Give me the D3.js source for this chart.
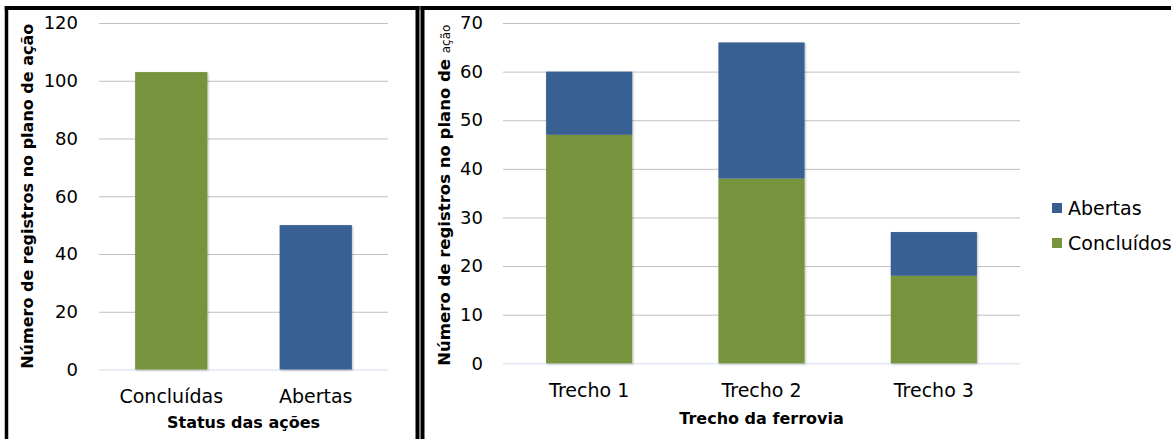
<!DOCTYPE html>
<html>
<head>
<meta charset="utf-8">
<script src="https://cdn.jsdelivr.net/npm/d3@7"></script>
<style>
  html, body { margin: 0; padding: 0; background: #fff; }
  svg { display: block; font-family: "DejaVu Sans", Verdana, sans-serif; }
</style>
</head>
<body>
<svg id="chart" width="1171" height="439"></svg>
<script>
// Status das ações (left panel)
const statusCategories = ["Concluídas", "Abertas"];
const statusValues = [103, 50];
const statusTicks = [0, 20, 40, 60, 80, 100, 120];

// Registros por trecho da ferrovia (right panel, stacked)
const trechos = ["Trecho 1", "Trecho 2", "Trecho 3"];
const concluidos = [47, 38, 18];
const abertas = [13, 28, 9];
const trechoTicks = [0, 10, 20, 30, 40, 50, 60, 70];

const seriesNames = ["Concluídos", "Abertas"];
const GREEN = "#77933c", BLUE = "#376092";
const GRID = "#c0c0c0", ZERO = "#d3dcea";

const svg = d3.select("#chart");

// soft shadow under bars
const defs = svg.append("defs");
defs.append("filter").attr("id", "barShadow")
  .attr("x", "-10%").attr("y", "-10%").attr("width", "130%").attr("height", "130%")
  .append("feDropShadow")
  .attr("dx", 1).attr("dy", 1).attr("stdDeviation", 1)
  .attr("flood-color", "#000").attr("flood-opacity", 0.25);

// panel frames
const frame = svg.append("g").attr("stroke", "#000").attr("fill", "none");
frame.append("line").attr("x1", 6.5).attr("x2", 6.5).attr("y1", 6).attr("y2", 439).attr("stroke-width", 3.5);
frame.append("line").attr("x1", 4.75).attr("x2", 419.5).attr("y1", 8).attr("y2", 8).attr("stroke-width", 4);
frame.append("line").attr("x1", 417.5).attr("x2", 417.5).attr("y1", 6).attr("y2", 439).attr("stroke-width", 4);
frame.append("line").attr("x1", 422.5).attr("x2", 422.5).attr("y1", 6).attr("y2", 439).attr("stroke-width", 4);
frame.append("line").attr("x1", 420.5).attr("x2", 1171).attr("y1", 8).attr("y2", 8).attr("stroke-width", 4);

function styleValueAxis(g) {
  g.select(".domain").remove();
  g.selectAll(".tick line").attr("stroke", GRID).attr("stroke-width", 1)
    .filter(d => d === 0).attr("stroke", ZERO);
  g.selectAll(".tick text").attr("fill", "#000").attr("font-size", 18)
    .attr("font-family", "DejaVu Sans, Verdana, sans-serif");
}
function styleCategoryAxis(g) {
  g.select(".domain").remove();
  g.selectAll(".tick line").remove();
  g.selectAll(".tick text").attr("fill", "#000").attr("font-size", 19)
    .attr("font-family", "DejaVu Sans, Verdana, sans-serif");
}

// ---------- left panel ----------
{
  const x0 = 99, x1 = 388, yTop = 23, yBase = 369.5;
  const x = d3.scaleBand().domain(statusCategories).range([x0, x1])
    .paddingInner(0.5).paddingOuter(0.25);
  const y = d3.scaleLinear().domain([0, 120]).range([yBase, yTop]);

  svg.append("g").attr("transform", `translate(${x0},0)`)
    .call(d3.axisLeft(y).tickValues(statusTicks).tickSize(-(x1 - x0)).tickPadding(21))
    .call(styleValueAxis);

  svg.append("g").attr("filter", "url(#barShadow)").selectAll("rect")
    .data(statusCategories.map((c, i) => ({ c, v: statusValues[i] })))
    .join("rect")
    .attr("x", d => x(d.c)).attr("width", x.bandwidth())
    .attr("y", d => y(d.v)).attr("height", d => y(0) - y(d.v))
    .attr("fill", (d, i) => i === 0 ? GREEN : BLUE);

  svg.append("g").attr("transform", `translate(0,${yBase})`)
    .call(d3.axisBottom(x).tickSize(0).tickPadding(20))
    .call(styleCategoryAxis);

  svg.append("text").attr("x", (x0 + x1) / 2).attr("y", 428)
    .attr("text-anchor", "middle").attr("font-weight", "bold").attr("font-size", 16)
    .text("Status das ações");

  svg.append("text")
    .attr("transform", `translate(33,${(yTop + yBase) / 2}) rotate(-90)`)
    .attr("text-anchor", "middle").attr("font-weight", "bold").attr("font-size", 16)
    .text("Número de registros no plano de ação");
}

// ---------- right panel ----------
{
  const x0 = 503, x1 = 1020, yTop = 23, yBase = 363.3;
  const x = d3.scaleBand().domain(trechos).range([x0, x1])
    .paddingInner(0.5).paddingOuter(0.25);
  const y = d3.scaleLinear().domain([0, 70]).range([yBase, yTop]);

  svg.append("g").attr("transform", `translate(${x0},0)`)
    .call(d3.axisLeft(y).tickValues(trechoTicks).tickSize(-(x1 - x0)).tickPadding(20))
    .call(styleValueAxis);

  const rows = trechos.map((t, i) => ({ trecho: t, "Concluídos": concluidos[i], "Abertas": abertas[i] }));
  const stacked = d3.stack().keys(seriesNames)(rows);
  const color = d3.scaleOrdinal().domain(seriesNames).range([GREEN, BLUE]);

  svg.append("g").attr("filter", "url(#barShadow)").selectAll("g")
    .data(stacked)
    .join("g").attr("fill", s => color(s.key))
    .selectAll("rect")
    .data(s => s)
    .join("rect")
    .attr("x", d => x(d.data.trecho)).attr("width", x.bandwidth())
    .attr("y", d => y(d[1])).attr("height", d => y(d[0]) - y(d[1]));

  svg.append("g").attr("transform", `translate(0,${yBase})`)
    .call(d3.axisBottom(x).tickSize(0).tickPadding(20))
    .call(styleCategoryAxis);

  svg.append("text").attr("x", (x0 + x1) / 2).attr("y", 424)
    .attr("text-anchor", "middle").attr("font-weight", "bold").attr("font-size", 16)
    .text("Trecho da ferrovia");

  const yt = svg.append("text")
    .attr("transform", `translate(450,${(yTop + yBase) / 2 + 2}) rotate(-90)`)
    .attr("text-anchor", "middle");
  yt.append("tspan").attr("font-weight", "bold").attr("font-size", 16.5)
    .text("Número de registros no plano de ");
  yt.append("tspan").attr("font-size", 12).text("ação");

  // legend (Abertas on top)
  const legendItems = seriesNames.slice().reverse();
  const lg = svg.append("g").selectAll("g")
    .data(legendItems).join("g")
    .attr("transform", (d, i) => `translate(1052,${203 + i * 35})`);
  lg.append("rect").attr("width", 10).attr("height", 10).attr("fill", d => color(d));
  lg.append("text").attr("x", 16).attr("y", 12).attr("font-size", 19).text(d => d);
}
</script>
</body>
</html>
